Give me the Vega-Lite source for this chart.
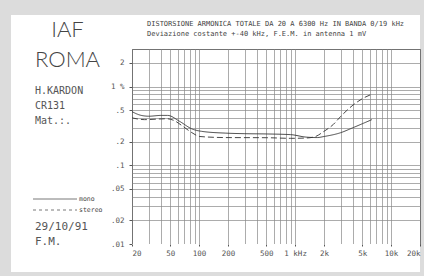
{
  "$schema": "https://vega.github.io/schema/vega-lite/v6.json",
  "background": "#dcdcdc",
  "padding": {"left": 11, "top": 15, "right": 4, "bottom": 4},
  "bounds": "flush",
  "spacing": 0,
  "config": {"view": {"stroke": null}},
  "hconcat": [
    {
      "width": 121,
      "height": 257,
      "view": {"fill": "white", "stroke": null},
      "resolve": {"scale": {"x": "independent", "y": "independent", "strokeDash": "independent"}},
      "layer": [
        {
          "data": {"values": [{"label": "IAF"}, {"label": "ROMA"}]},
          "mark": {"type": "text", "font": "Lato", "fontWeight": 300, "fontSize": 22, "color": "#444", "dx": -4},
          "encoding": {
            "y": {"field": "label", "type": "nominal", "axis": null,
              "scale": {"type": "point", "padding": 0,
                "domain": ["_1", "IAF", "_3", "ROMA", "_5", "H.KARDON", "CR131", "Mat.:.", "_9", "_10", "_11", "_12", "_13", "_14", "29/10/91", "F.M.", "_17", "_18"]}},
            "text": {"field": "label", "type": "nominal"}
          }
        },
        {
          "data": {"values": [{"label": "H.KARDON"}, {"label": "CR131"}, {"label": "Mat.:."}]},
          "mark": {"type": "text", "font": "DejaVu Sans Mono", "fontSize": 10, "align": "left", "dx": -36.5, "color": "#555"},
          "encoding": {
            "y": {"field": "label", "type": "nominal", "axis": null,
              "scale": {"type": "point", "padding": 0,
                "domain": ["_1", "IAF", "_3", "ROMA", "_5", "H.KARDON", "CR131", "Mat.:.", "_9", "_10", "_11", "_12", "_13", "_14", "29/10/91", "F.M.", "_17", "_18"]}},
            "text": {"field": "label", "type": "nominal"}
          }
        },
        {
          "data": {"values": [{"label": "29/10/91"}, {"label": "F.M."}]},
          "mark": {"type": "text", "font": "DejaVu Sans Mono", "fontSize": 11, "align": "left", "dx": -36.5, "color": "#555"},
          "encoding": {
            "y": {"field": "label", "type": "nominal", "axis": null,
              "scale": {"type": "point", "padding": 0,
                "domain": ["_1", "IAF", "_3", "ROMA", "_5", "H.KARDON", "CR131", "Mat.:.", "_9", "_10", "_11", "_12", "_13", "_14", "29/10/91", "F.M.", "_17", "_18"]}},
            "text": {"field": "label", "type": "nominal"}
          }
        },
        {
          "data": {"values": [
            {"mode": "mono", "end": "start"}, {"mode": "mono", "end": "end"},
            {"mode": "stereo", "end": "start"}, {"mode": "stereo", "end": "end"}
          ]},
          "mark": {"type": "line", "color": "#555", "strokeWidth": 0.8},
          "encoding": {
            "x": {"field": "end", "type": "nominal", "axis": null,
              "scale": {"type": "point", "padding": 0, "domain": ["start", "end"], "range": [22, 66]}},
            "y": {"field": "mode", "type": "nominal", "axis": null,
              "scale": {"type": "point", "padding": 0, "domain": ["mono", "stereo"], "range": [184, 195]}},
            "strokeDash": {"field": "mode", "type": "nominal", "legend": null,
              "scale": {"domain": ["mono", "stereo"], "range": [[1, 0], [3, 3]]}}
          }
        },
        {
          "data": {"values": [{"mode": "mono"}, {"mode": "stereo"}]},
          "mark": {"type": "text", "font": "DejaVu Sans Mono", "fontSize": 6.5, "align": "left", "dx": 2, "color": "#444"},
          "encoding": {
            "x": {"datum": "end", "type": "nominal", "axis": null,
              "scale": {"type": "point", "padding": 0, "domain": ["start", "end"], "range": [22, 66]}},
            "y": {"field": "mode", "type": "nominal", "axis": null,
              "scale": {"type": "point", "padding": 0, "domain": ["mono", "stereo"], "range": [184, 195]}},
            "text": {"field": "mode", "type": "nominal"}
          }
        }
      ]
    },
    {
      "bounds": "flush",
      "spacing": 0,
      "vconcat": [
        {
          "width": 288,
          "height": 34,
          "view": {"fill": "white", "stroke": null},
          "data": {"values": []},
          "mark": "text"
        },
        {
          "width": 288,
          "height": 195,
          "view": {"fill": "white", "stroke": "#444", "strokeWidth": 1},
          "title": {
            "text": "DISTORSIONE ARMONICA TOTALE DA 20 A 6300 Hz IN BANDA 0/19 kHz",
            "subtitle": "Deviazione costante +-40 kHz, F.E.M. in antenna 1 mV",
            "anchor": "start", "frame": "group", "dx": 15, "offset": 8,
            "font": "DejaVu Sans Mono", "fontSize": 7, "fontWeight": "normal", "color": "#444",
            "subtitleFont": "DejaVu Sans Mono", "subtitleFontSize": 7, "subtitleColor": "#444", "subtitlePadding": 3
          },
          "data": {"values": [
            {"mode": "mono", "freq": 20, "thd": 0.48},
            {"mode": "mono", "freq": 25, "thd": 0.43},
            {"mode": "mono", "freq": 30, "thd": 0.42},
            {"mode": "mono", "freq": 40, "thd": 0.43},
            {"mode": "mono", "freq": 47, "thd": 0.43},
            {"mode": "mono", "freq": 63, "thd": 0.36},
            {"mode": "mono", "freq": 84, "thd": 0.29},
            {"mode": "mono", "freq": 106, "thd": 0.27},
            {"mode": "mono", "freq": 190, "thd": 0.256},
            {"mode": "mono", "freq": 300, "thd": 0.252},
            {"mode": "mono", "freq": 500, "thd": 0.25},
            {"mode": "mono", "freq": 900, "thd": 0.245},
            {"mode": "mono", "freq": 1300, "thd": 0.228},
            {"mode": "mono", "freq": 1700, "thd": 0.225},
            {"mode": "mono", "freq": 2000, "thd": 0.232},
            {"mode": "mono", "freq": 3000, "thd": 0.26},
            {"mode": "mono", "freq": 4000, "thd": 0.3},
            {"mode": "mono", "freq": 6300, "thd": 0.38},
            {"mode": "stereo", "freq": 20, "thd": 0.4},
            {"mode": "stereo", "freq": 27, "thd": 0.38},
            {"mode": "stereo", "freq": 46, "thd": 0.39},
            {"mode": "stereo", "freq": 55, "thd": 0.37},
            {"mode": "stereo", "freq": 66, "thd": 0.32},
            {"mode": "stereo", "freq": 84, "thd": 0.26},
            {"mode": "stereo", "freq": 102, "thd": 0.232},
            {"mode": "stereo", "freq": 186, "thd": 0.225},
            {"mode": "stereo", "freq": 500, "thd": 0.224},
            {"mode": "stereo", "freq": 900, "thd": 0.22},
            {"mode": "stereo", "freq": 1300, "thd": 0.222},
            {"mode": "stereo", "freq": 1600, "thd": 0.23},
            {"mode": "stereo", "freq": 2000, "thd": 0.27},
            {"mode": "stereo", "freq": 2500, "thd": 0.33},
            {"mode": "stereo", "freq": 3000, "thd": 0.42},
            {"mode": "stereo", "freq": 4000, "thd": 0.58},
            {"mode": "stereo", "freq": 5000, "thd": 0.7},
            {"mode": "stereo", "freq": 6300, "thd": 0.8}
          ]},
          "mark": {"type": "line", "interpolate": "monotone", "color": "#333", "strokeWidth": 0.9},
          "encoding": {
            "x": {
              "field": "freq", "type": "quantitative",
              "scale": {"type": "log", "domain": [20, 20000], "nice": false},
              "axis": {
                "title": null,
                "values": [20, 30, 40, 50, 60, 70, 80, 90, 100, 200, 300, 400, 500, 600, 700, 800, 900, 1000, 2000, 3000, 4000, 5000, 6000, 7000, 8000, 9000, 10000, 20000],
                "grid": true, "gridColor": "#888", "gridWidth": 0.7,
                "domain": false, "ticks": false, "labels": false
              }
            },
            "y": {
              "field": "thd", "type": "quantitative",
              "scale": {"type": "log", "domain": [0.01, 3], "nice": false},
              "axis": {
                "title": null,
                "values": [0.01, 0.02, 0.03, 0.04, 0.05, 0.06, 0.07, 0.08, 0.09, 0.1, 0.2, 0.3, 0.4, 0.5, 0.6, 0.7, 0.8, 0.9, 1, 2, 3],
                "labelExpr": "datum.value == 1 ? '1 %' : datum.value == 2 ? '2' : indexof([0.01, 0.02, 0.05, 0.1, 0.2, 0.5], datum.value) >= 0 ? replace('' + datum.value, '0.', '.') : ''",
                "grid": true, "gridColor": "#888", "gridWidth": 0.7,
                "domain": false,
                "tickColor": "#555", "tickSize": 3,
                "tickOpacity": {"condition": {"test": "indexof([0.01, 0.02, 0.05, 0.1, 0.2, 0.5, 1, 2], datum.value) >= 0", "value": 1}, "value": 0},
                "labelFont": "DejaVu Sans Mono", "labelFontSize": 7.5, "labelColor": "#555",
                "labelPadding": 5, "labelOverlap": false
              }
            },
            "strokeDash": {
              "field": "mode", "type": "nominal",
              "scale": {"domain": ["mono", "stereo"], "range": [[1, 0], [6, 3]]},
              "legend": null
            }
          }
        },
        {
          "width": 288,
          "height": 28,
          "view": {"fill": "white", "stroke": null},
          "data": {"values": []},
          "mark": "point",
          "encoding": {
            "x": {
              "field": "freq", "type": "quantitative",
              "scale": {"type": "log", "domain": [20, 20000], "nice": false},
              "axis": {
                "title": null, "offset": -28,
                "values": [20, 30, 40, 50, 60, 70, 80, 90, 100, 200, 300, 400, 500, 600, 700, 800, 900, 1000, 2000, 3000, 4000, 5000, 6000, 7000, 8000, 9000, 10000, 20000],
                "labelExpr": "datum.value == 1000 ? '1 kHz' : indexof([2000, 5000, 10000, 20000], datum.value) >= 0 ? (datum.value / 1000) + 'k' : indexof([20, 50, 100, 200, 500], datum.value) >= 0 ? '' + datum.value : ''",
                "grid": false, "domain": false,
                "tickColor": "#555", "tickSize": 2,
                "tickOpacity": {"condition": {"test": "indexof([20, 50, 100, 200, 500, 1000, 2000, 5000, 10000, 20000], datum.value) >= 0", "value": 1}, "value": 0},
                "labelFont": "DejaVu Sans Mono", "labelFontSize": 7.5, "labelColor": "#555",
                "labelPadding": 3, "labelFlush": true, "labelOverlap": false
              }
            }
          }
        }
      ]
    }
  ]
}
